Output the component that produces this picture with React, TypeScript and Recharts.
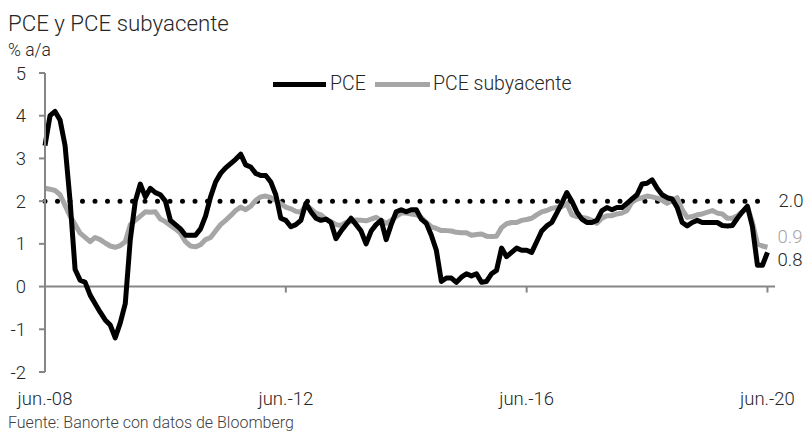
import { LineChart, Line, XAxis, YAxis, ReferenceLine, ReferenceDot } from "recharts";

// PCE and core PCE, % y/y, monthly from jun-08 to jun-20
const PCE = [
  3.3, 4.0, 4.1, 3.9, 3.3, 2.0, 0.4, 0.15, 0.1, -0.2, -0.4, -0.6,
  -0.78, -0.9, -1.2, -0.85, -0.4, 1.1, 2.0, 2.4, 2.1, 2.3, 2.2, 2.15,
  2.0, 1.55, 1.45, 1.35, 1.2, 1.2, 1.2, 1.35, 1.65, 2.1, 2.45, 2.65,
  2.78, 2.88, 2.98, 3.1, 2.85, 2.8, 2.65, 2.6, 2.6, 2.45, 2.15, 1.6,
  1.55, 1.4, 1.45, 1.55, 1.95, 1.75, 1.6, 1.55, 1.58, 1.5, 1.12, 1.3,
  1.45, 1.6, 1.45, 1.3, 1.0, 1.3, 1.45, 1.55, 1.1, 1.45, 1.75, 1.8,
  1.75, 1.8, 1.8, 1.58, 1.48, 1.2, 0.85, 0.12, 0.2, 0.2, 0.1, 0.22,
  0.3, 0.25, 0.3, 0.1, 0.12, 0.3, 0.38, 0.9, 0.7, 0.8, 0.9, 0.85,
  0.85, 0.8, 1.05, 1.3, 1.42, 1.5, 1.72, 1.95, 2.2, 2.0, 1.75, 1.58,
  1.5, 1.5, 1.55, 1.78, 1.85, 1.8, 1.85, 1.85, 1.95, 2.05, 2.15, 2.4,
  2.42, 2.5, 2.3, 2.15, 2.08, 2.05, 1.85, 1.5, 1.42, 1.5, 1.55, 1.5,
  1.5, 1.5, 1.5, 1.43, 1.42, 1.43, 1.6, 1.75, 1.88, 1.4, 0.5, 0.5,
  0.8,
];

const PCE_CORE = [
  2.3, 2.28, 2.25, 2.15, 1.9, 1.65, 1.45, 1.25, 1.15, 1.05, 1.15, 1.1,
  1.02, 0.95, 0.92, 0.96, 1.05, 1.45, 1.55, 1.65, 1.75, 1.74, 1.75, 1.58,
  1.52, 1.43, 1.35, 1.25, 1.05, 0.95, 0.93, 0.98, 1.1, 1.15, 1.3, 1.45,
  1.55, 1.66, 1.78, 1.86, 1.8, 1.88, 2.02, 2.1, 2.12, 2.08, 2.02, 1.94,
  1.86, 1.82, 1.76, 1.74, 1.9, 1.82, 1.72, 1.68, 1.58, 1.52, 1.45, 1.43,
  1.5, 1.52, 1.56, 1.55, 1.54, 1.58, 1.62, 1.55, 1.48, 1.55, 1.64, 1.72,
  1.72, 1.7, 1.68, 1.62, 1.5, 1.4, 1.36, 1.31, 1.31, 1.3, 1.27, 1.26,
  1.26, 1.2, 1.22, 1.23, 1.18, 1.17, 1.18, 1.38, 1.47, 1.5, 1.5, 1.55,
  1.57, 1.6, 1.68, 1.75, 1.78, 1.83, 1.85, 1.87, 1.94, 1.68, 1.64, 1.62,
  1.6, 1.55, 1.48, 1.6, 1.66, 1.66, 1.7, 1.72, 1.78, 1.98, 2.05, 2.08,
  2.12, 2.1, 2.07, 2.02, 1.95, 2.02, 2.08, 1.8, 1.62, 1.64, 1.68, 1.7,
  1.74, 1.78, 1.72, 1.7, 1.6, 1.6, 1.66, 1.75, 1.87, 1.5, 1.0, 0.95,
  0.92,
];

const X_TICKS = [0, 48, 96, 144];
const X_TICK_LABELS = ["jun.-08", "jun.-12", "jun.-16", "jun.-20"];
const Y_TICKS = [-2, -1, 0, 1, 2, 3, 4, 5];
const TARGET = 2;

const FONT = "Roboto, 'Liberation Sans', sans-serif";
const TEXT = "#262626";
const AXIS = "#868686";
const CORE_COLOR = "#a6a6a6";

const data = PCE.map((v, i) => ({ i, pce: v, core: PCE_CORE[i] }));
const last = data.length - 1;

/* eslint-disable @typescript-eslint/no-explicit-any */
const XTick = ({ x, y, payload }: any) => {
  const idx = X_TICKS.indexOf(payload.value);
  return (
    <text x={x} y={y + 25} textAnchor="middle" fontSize={18.5} fontWeight={300} fill={TEXT} fontFamily={FONT}>
      {X_TICK_LABELS[idx]}
    </text>
  );
};

const endLabel = (dy: number, color: string) => (props: any) => {
  const { x, y, value, index } = props;
  if (index !== last) return <g />;
  return (
    <text x={x + 10} y={y + dy} fill={color} fontSize={18.5} fontWeight={300} fontFamily={FONT} dominantBaseline="central">
      {Number(value).toFixed(1)}
    </text>
  );
};
/* eslint-enable @typescript-eslint/no-explicit-any */

const legendText = { position: "absolute" as const, top: 73, fontSize: 19.5, fontWeight: 300, color: TEXT, lineHeight: "22px" };
const legendLine = { position: "absolute" as const, top: 82, height: 5 };

export default function App() {
  return (
    <div style={{ position: "absolute", left: 0, top: 0, width: 806, height: 431, fontFamily: FONT, overflow: "hidden" }}>
      <LineChart
        width={806}
        height={431}
        data={data}
        margin={{ top: 73, right: 31, bottom: 29, left: 8 }}
      >
        <XAxis
          dataKey="i"
          type="number"
          domain={[0, 145.5]}
          ticks={X_TICKS}
          axisLine={false}
          tickLine={false}
          height={30}
          tick={<XTick />}
          interval={0}
        />
        <YAxis
          type="number"
          domain={[-2, 5]}
          ticks={Y_TICKS}
          width={37}
          axisLine={{ stroke: AXIS, strokeWidth: 2 }}
          tickLine={{ stroke: AXIS, strokeWidth: 2 }}
          tickSize={6}
          tickMargin={13}
          tick={{ fontSize: 18.5, fontWeight: 300, fill: TEXT, fontFamily: FONT }}
          interval={0}
        />
        <ReferenceLine y={0} stroke={AXIS} strokeWidth={2} />
        {X_TICKS.slice(1).map((t) => (
          <ReferenceLine
            key={t}
            segment={[{ x: t, y: 0 }, { x: t, y: -0.14 }]}
            stroke={AXIS}
            strokeWidth={2}
            ifOverflow="visible"
          />
        ))}
        <ReferenceLine
          segment={[{ x: 0, y: TARGET }, { x: 143.5, y: TARGET }]}
          stroke="#000"
          strokeWidth={5}
          strokeLinecap="round"
          strokeDasharray="0 12.5"
        />
        <ReferenceDot
          x={144}
          y={TARGET}
          r={0}
          fill="none"
          stroke="none"
          label={(p: any) => (
            <text x={p.viewBox.x + 11} y={p.viewBox.y} fill={TEXT} fontSize={18.5} fontWeight={300} fontFamily={FONT} dominantBaseline="central">
              {TARGET.toFixed(1)}
            </text>
          )}
        />
        <Line
          dataKey="core"
          name="PCE subyacente"
          stroke={CORE_COLOR}
          strokeWidth={5}
          dot={false}
          isAnimationActive={false}
          strokeLinejoin="round"
          label={endLabel(-10, CORE_COLOR)}
        />
        <Line
          dataKey="pce"
          name="PCE"
          stroke="#000"
          strokeWidth={5}
          dot={false}
          isAnimationActive={false}
          strokeLinejoin="round"
          label={endLabel(8, TEXT)}
        />
      </LineChart>
      <span style={{ ...legendLine, left: 273, width: 53, background: "#000" }} />
      <span style={{ ...legendText, left: 330 }}>PCE</span>
      <span style={{ ...legendLine, left: 375, width: 55, background: CORE_COLOR }} />
      <span style={{ ...legendText, left: 433 }}>PCE subyacente</span>
      <svg width={806} height={431} style={{ position: "absolute", left: 0, top: 0, pointerEvents: "none" }}>
        <text x={8} y={31} fontSize={22.3} fontWeight={300} fill={TEXT} fontFamily={FONT}>PCE y PCE subyacente</text>
        <text x={8} y={56} fontSize={17.5} fontWeight={300} fill={TEXT} fontFamily={FONT}>% a/a</text>
        <text x={8} y={428} fontSize={16} fontWeight={300} fill="#404040" fontFamily={FONT}>Fuente: Banorte con datos de Bloomberg</text>
      </svg>
    </div>
  );
}
